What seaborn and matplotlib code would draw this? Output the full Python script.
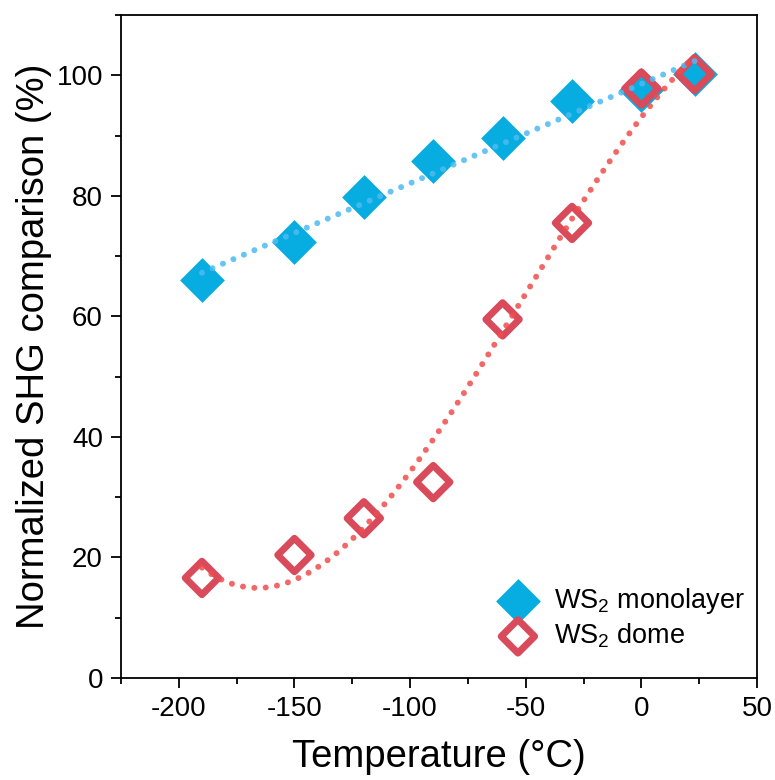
import numpy as np
import pandas as pd
import matplotlib
matplotlib.use("Agg")
import matplotlib.pyplot as plt
import seaborn as sns
from matplotlib.ticker import MultipleLocator

# Temperatures (°C) and normalized SHG intensities (%)
temperature = [-190, -150, -120, -90, -60, -30, 0, 23]
monolayer = [66.0, 72.3, 79.8, 85.7, 89.6, 95.7, 97.5, 100.2]
dome = [16.6, 20.4, 26.5, 32.5, 59.5, 75.5, 97.8, 100.2]

x_ticks = [-200, -150, -100, -50, 0, 50]
y_ticks = [0, 20, 40, 60, 80, 100]

sns.set_theme(style="ticks", rc={
    "text.color": "black", "axes.labelcolor": "black",
    "xtick.color": "black", "ytick.color": "black",
    "axes.edgecolor": "black",
})
plt.rcParams["font.family"] = ["Liberation Sans", "DejaVu Sans"]
plt.rcParams["mathtext.fontset"] = "custom"
plt.rcParams["mathtext.rm"] = "Liberation Sans"
plt.rcParams["mathtext.it"] = "Liberation Sans"
plt.rcParams["axes.unicode_minus"] = False

blue_mk = "#07ACE0"
blue_ln = "#4DBBF2"
red_mk = "#D94A5B"
red_ln = "#F24C4C"

df = pd.DataFrame({"T": temperature, "mono": monolayer, "dome": dome})

# Trend curves: linear for the monolayer, cubic for the dome
xs = np.linspace(min(temperature), max(temperature), 300)
fit = pd.DataFrame({
    "T": xs,
    "mono": np.polyval(np.polyfit(temperature, monolayer, 1), xs),
    "dome": np.polyval(np.polyfit(temperature, dome, 3), xs),
})

fig = plt.figure(figsize=(7.75, 7.8), dpi=100)
ax = fig.add_axes([121 / 775, 1 - 678 / 780, 636 / 775, 663 / 780])

sns.scatterplot(data=df, x="T", y="mono", ax=ax, marker="D", s=520,
                color=blue_mk, edgecolor=blue_mk, linewidth=0, zorder=3,
                label=r"WS$_2$ monolayer")
sns.scatterplot(data=df, x="T", y="dome", ax=ax, marker="D", s=290,
                facecolor="none", edgecolor=red_mk, linewidth=5.0, zorder=4,
                label=r"WS$_2$ dome")

dotted = (0, (0.01, 1.9))
sns.lineplot(data=fit, x="T", y="mono", ax=ax, color=blue_ln, lw=4.3,
             linestyle=dotted, dash_capstyle="round", alpha=0.85, zorder=5,
             legend=False)
sns.lineplot(data=fit, x="T", y="dome", ax=ax, color=red_ln, lw=4.3,
             linestyle=dotted, dash_capstyle="round", alpha=0.85, zorder=5,
             legend=False)

ax.set_xlim(-225, 50)
ax.set_ylim(0, 110)
ax.set_xticks(x_ticks)
ax.set_yticks(y_ticks)
ax.xaxis.set_minor_locator(MultipleLocator(25))
ax.yaxis.set_minor_locator(MultipleLocator(10))
ax.tick_params(which="major", direction="out", length=7, width=1.3,
               labelsize=20, pad=6)
ax.tick_params(which="minor", direction="out", length=4, width=1.3)
for s in ax.spines.values():
    s.set_visible(True)
    s.set_linewidth(1.3)

ax.set_xlabel("Temperature (°C)", fontsize=27.5, labelpad=12)
ax.set_ylabel("Normalized SHG comparison (%)", fontsize=27.5, labelpad=3)

leg = ax.legend(loc="lower right", bbox_to_anchor=(1 - 12 / 636, 28 / 663),
                frameon=False, fontsize=19.5, borderpad=0, borderaxespad=0,
                handlelength=2.0, handletextpad=0.33, labelspacing=0.2)

fig.savefig("out.png", dpi=100)
